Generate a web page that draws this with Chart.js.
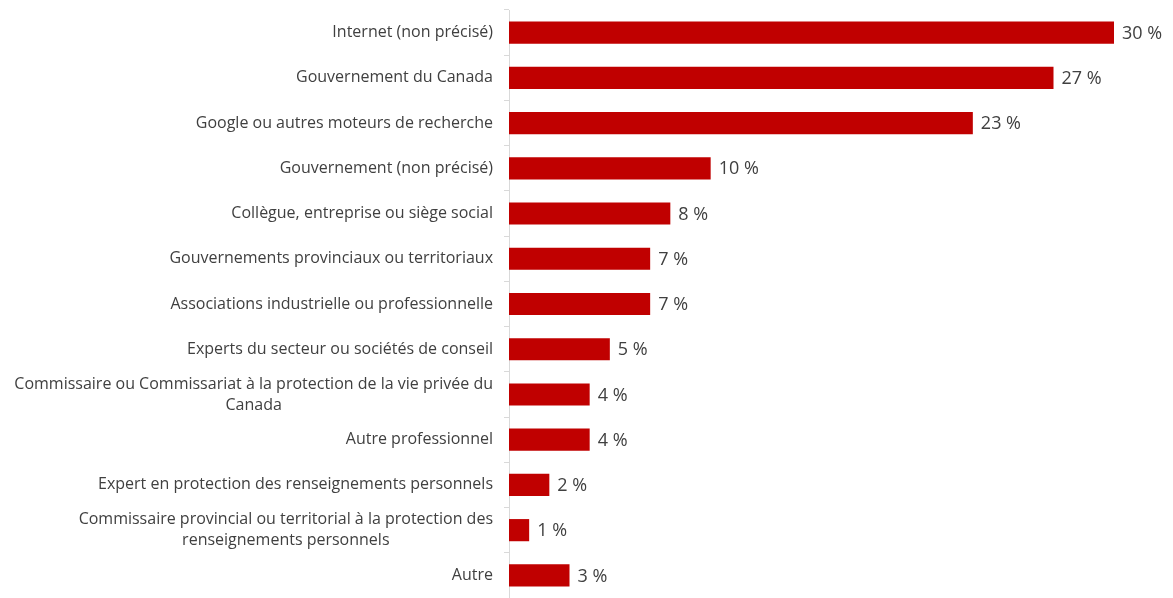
<!DOCTYPE html>
<html lang="fr">
<head>
<meta charset="utf-8">
<script src="https://cdn.jsdelivr.net/npm/chart.js@4.4.1/dist/chart.umd.min.js"></script>
<style>
  html, body { margin: 0; padding: 0; background: #fff; }
  #wrap { width: 1173px; height: 598px; }
</style>
</head>
<body>
<div id="wrap"><canvas id="sources"></canvas></div>
<script>
//------ Data ------//
const categories = [
  'Internet (non précisé)',
  'Gouvernement du Canada',
  'Google ou autres moteurs de recherche',
  'Gouvernement (non précisé)',
  'Collègue, entreprise ou siège social',
  'Gouvernements provinciaux ou territoriaux',
  'Associations industrielle ou professionnelle',
  'Experts du secteur ou sociétés de conseil',
  ['Commissaire ou Commissariat à la protection de la vie privée du', 'Canada'],
  'Autre professionnel',
  'Expert en protection des renseignements personnels',
  ['Commissaire provincial ou territorial à la protection des', 'renseignements personnels'],
  'Autre'
];
const percents = [30, 27, 23, 10, 8, 7, 7, 5, 4, 4, 2, 1, 3];

const textColor = '#404040';
const fontFamily = "'Open Sans', 'Noto Sans', sans-serif";
const labelFont = `16px ${fontFamily}`;
const labelGap = 16;   // space between label block and the axis line
const lineHeight = 21;

//------ Category labels: block right-aligned, wrapped lines centred ------//
const categoryLabels = {
  id: 'categoryLabels',
  afterDraw(chart) {
    const { ctx } = chart;
    const yScale = chart.scales.y;
    const right = yScale.right - labelGap;
    ctx.save();
    ctx.font = labelFont;
    ctx.fillStyle = textColor;
    ctx.textBaseline = 'middle';
    ctx.textAlign = 'center';
    categories.forEach((label, i) => {
      const lines = Array.isArray(label) ? label : [label];
      const widest = Math.max(...lines.map(l => ctx.measureText(l).width));
      const centreX = right - widest / 2;
      const y = yScale.getPixelForTick(i);
      const top = y - (lines.length - 1) * lineHeight / 2;
      lines.forEach((line, k) => {
        ctx.fillText(line, centreX, top + k * lineHeight);
      });
    });
    ctx.restore();
  }
};

//------ Value labels at the end of each bar ------//
const valueLabels = {
  id: 'valueLabels',
  afterDatasetsDraw(chart) {
    const { ctx } = chart;
    const meta = chart.getDatasetMeta(0);
    ctx.save();
    ctx.font = `18px ${fontFamily}`;
    ctx.fillStyle = textColor;
    ctx.textAlign = 'left';
    ctx.textBaseline = 'middle';
    meta.data.forEach((bar, i) => {
      ctx.fillText(`${percents[i]} %`, bar.x + 8, bar.y + 1);
    });
    ctx.restore();
  }
};

//------ Chart ------//
new Chart(document.getElementById('sources'), {
  type: 'bar',
  data: {
    labels: categories,
    datasets: [{
      data: percents,
      backgroundColor: '#C00000',
      borderWidth: 0,
      barPercentage: 0.49,
      categoryPercentage: 1
    }]
  },
  options: {
    indexAxis: 'y',
    responsive: true,
    maintainAspectRatio: false,
    animation: false,
    layout: { padding: { top: 10, right: 59, bottom: -2, left: 0 } },
    scales: {
      x: {
        display: false,
        min: 0,
        max: 30
      },
      y: {
        afterFit: (scale) => {
          scale.width = 509;
          scale.paddingTop = 0;
          scale.paddingBottom = 0;
        },
        border: { color: '#d9d9d9', width: 1 },
        grid: {
          offset: true,
          drawOnChartArea: false,
          tickLength: 5,
          color: '#d9d9d9'
        },
        ticks: {
          color: 'rgba(0,0,0,0)',   // drawn by categoryLabels instead
          font: { family: fontFamily, size: 16 }
        }
      }
    },
    plugins: {
      legend: { display: false },
      tooltip: { enabled: false }
    }
  },
  plugins: [valueLabels, categoryLabels]
});
</script>
</body>
</html>
